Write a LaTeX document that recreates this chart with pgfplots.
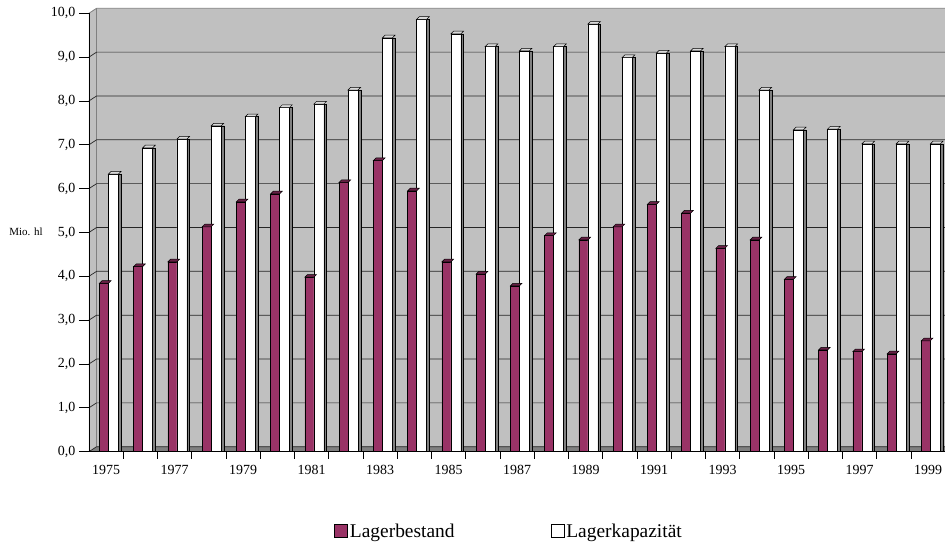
\documentclass[border=0pt]{standalone}
\usepackage{pgfplots}
\pgfplotsset{compat=1.18}
\usepackage{fontspec}
\setmainfont{Liberation Serif}
\definecolor{lbest}{HTML}{993366}
\definecolor{lcap}{HTML}{661F44}
\definecolor{wall}{HTML}{C0C0C0}
\definecolor{floorc}{HTML}{808080}
\pgfdeclareplotmark{pcap}{%
  \pgfpathmoveto{\pgfqpoint{-6.7bp}{0bp}}\pgfpathlineto{\pgfqpoint{2.3bp}{0bp}}%
  \pgfpathlineto{\pgfqpoint{5bp}{2.7bp}}\pgfpathlineto{\pgfqpoint{-4bp}{2.7bp}}%
  \pgfpathclose\pgfusepathqfillstroke}
\pgfdeclareplotmark{wcap}{%
  \pgfpathmoveto{\pgfqpoint{2.3bp}{0bp}}\pgfpathlineto{\pgfqpoint{12.3bp}{0bp}}%
  \pgfpathlineto{\pgfqpoint{15bp}{2.7bp}}\pgfpathlineto{\pgfqpoint{5bp}{2.7bp}}%
  \pgfpathclose\pgfusepathqfillstroke}
\pgfplotstableread{
x best kap
0 3.84 6.33
1 4.22 6.93
2 4.33 7.13
3 5.13 7.43
4 5.70 7.64
5 5.88 7.85
6 3.98 7.93
7 6.14 8.25
8 6.64 9.44
9 5.95 9.86
10 4.33 9.53
11 4.05 9.24
12 3.78 9.14
13 4.93 9.24
14 4.83 9.75
15 5.13 8.99
16 5.64 9.09
17 5.44 9.14
18 4.64 9.24
19 4.83 8.25
20 3.93 7.34
21 2.32 7.36
22 2.28 7.02
23 2.23 7.02
24 2.53 7.02
}\datatable
\begin{document}
\begin{tikzpicture}[x=1bp,y=1bp]
\node[font=\fontsize{11}{13}\selectfont] at (26,312) {Mio. hl};
\begin{axis}[
  at={(88.9bp,92.3bp)}, anchor=south west,
  scale only axis, width=856.25bp, height=438.4bp,
  clip=false, axis on top,
  xmin=-0.5, xmax=24.5, ymin=0, ymax=10,
  axis lines*=left, axis line style={-,black,line width=0.8bp},
  tick align=outside, major tick length=10bp, minor tick length=7bp,
  ytick={0,1,...,10},
  every major y tick/.style={black,line width=0.8bp},
  every major x tick/.style={draw=none},
  every minor x tick/.style={black,line width=0.8bp},
  xtick={0,2,...,24},
  minor xtick={0.5,1.5,...,23.5},
  xticklabels={1975,1977,1979,1981,1983,1985,1987,1989,1991,1993,1995,1997,1999},
  ticklabel style={font=\fontsize{14}{16}\selectfont},
  yticklabel style={/pgf/number format/.cd, fixed, fixed zerofill, precision=1, use comma, assume math mode=true},
  legend style={at={(0.2862,-0.181)}, anchor=west, draw=none, fill=none, inner sep=0pt,
    font=\fontsize{19.5}{22}\selectfont, legend columns=2,
    /tikz/every even column/.append style={column sep=94bp}},
  legend image code/.code={\draw[#1, line width=0.8bp] (0bp,-6.5bp) rectangle (13bp,6.5bp);},
]
\fill[wall] (rel axis cs:0,0) -- (rel axis cs:0,1) -- ([xshift=7.7bp,yshift=5bp]rel axis cs:0,1)
   -- ([xshift=10bp,yshift=5bp]rel axis cs:1,1) -- ([xshift=10bp]rel axis cs:1,0) -- cycle;
\fill[floorc] (rel axis cs:0,0) -- ([xshift=7.7bp,yshift=5bp]rel axis cs:0,0)
   -- ([xshift=10bp,yshift=5bp]rel axis cs:1,0) -- ([xshift=10bp]rel axis cs:1,0) -- cycle;
\draw[floorc, line width=0.8bp] ([xshift=7.7bp,yshift=5bp]rel axis cs:0,0) -- ([xshift=7.7bp,yshift=5bp]rel axis cs:0,1);
\pgfplotsinvokeforeach{0,1,2,3,4,5,6,7,8,9}{
  \draw[black!85, line width=0.7bp] (axis cs:-0.5,#1) -- ([xshift=7.7bp,yshift=5bp]axis cs:-0.5,#1)
     -- ([xshift=10bp,yshift=5bp]axis cs:24.5,#1);
}
\draw[floorc, line width=0.8bp] (axis cs:-0.5,10) -- ([xshift=7.7bp,yshift=5bp]axis cs:-0.5,10)
     -- ([xshift=10bp,yshift=5bp]axis cs:24.5,10);
\addplot[ybar, fill=lbest, draw=black, line width=0.6bp, bar width=0.263, bar shift=-0.064] table[x=x,y=best] {\datatable};
\addlegendentry{Lagerbestand}
\addplot[only marks, mark=pcap, mark options={fill=lcap, draw=black, line width=0.5bp}, forget plot] table[x=x,y=best] {\datatable};
\addplot[ybar, fill=white, draw=black, line width=0.6bp, bar width=0.292, bar shift=0.213] table[x=x,y=kap] {\datatable};
\addlegendentry{Lagerkapazität}
\addplot[ybar, fill=floorc, draw=black, line width=0.5bp, bar width=0.079, bar shift=0.4, forget plot] table[x=x,y=kap] {\datatable};
\addplot[only marks, mark=wcap, mark options={fill=white!85!black, draw=black, line width=0.5bp}, forget plot] table[x=x,y=kap] {\datatable};
\end{axis}
\pgfresetboundingbox
\useasboundingbox (0,0) rectangle (945,544);
\end{tikzpicture}
\end{document}
